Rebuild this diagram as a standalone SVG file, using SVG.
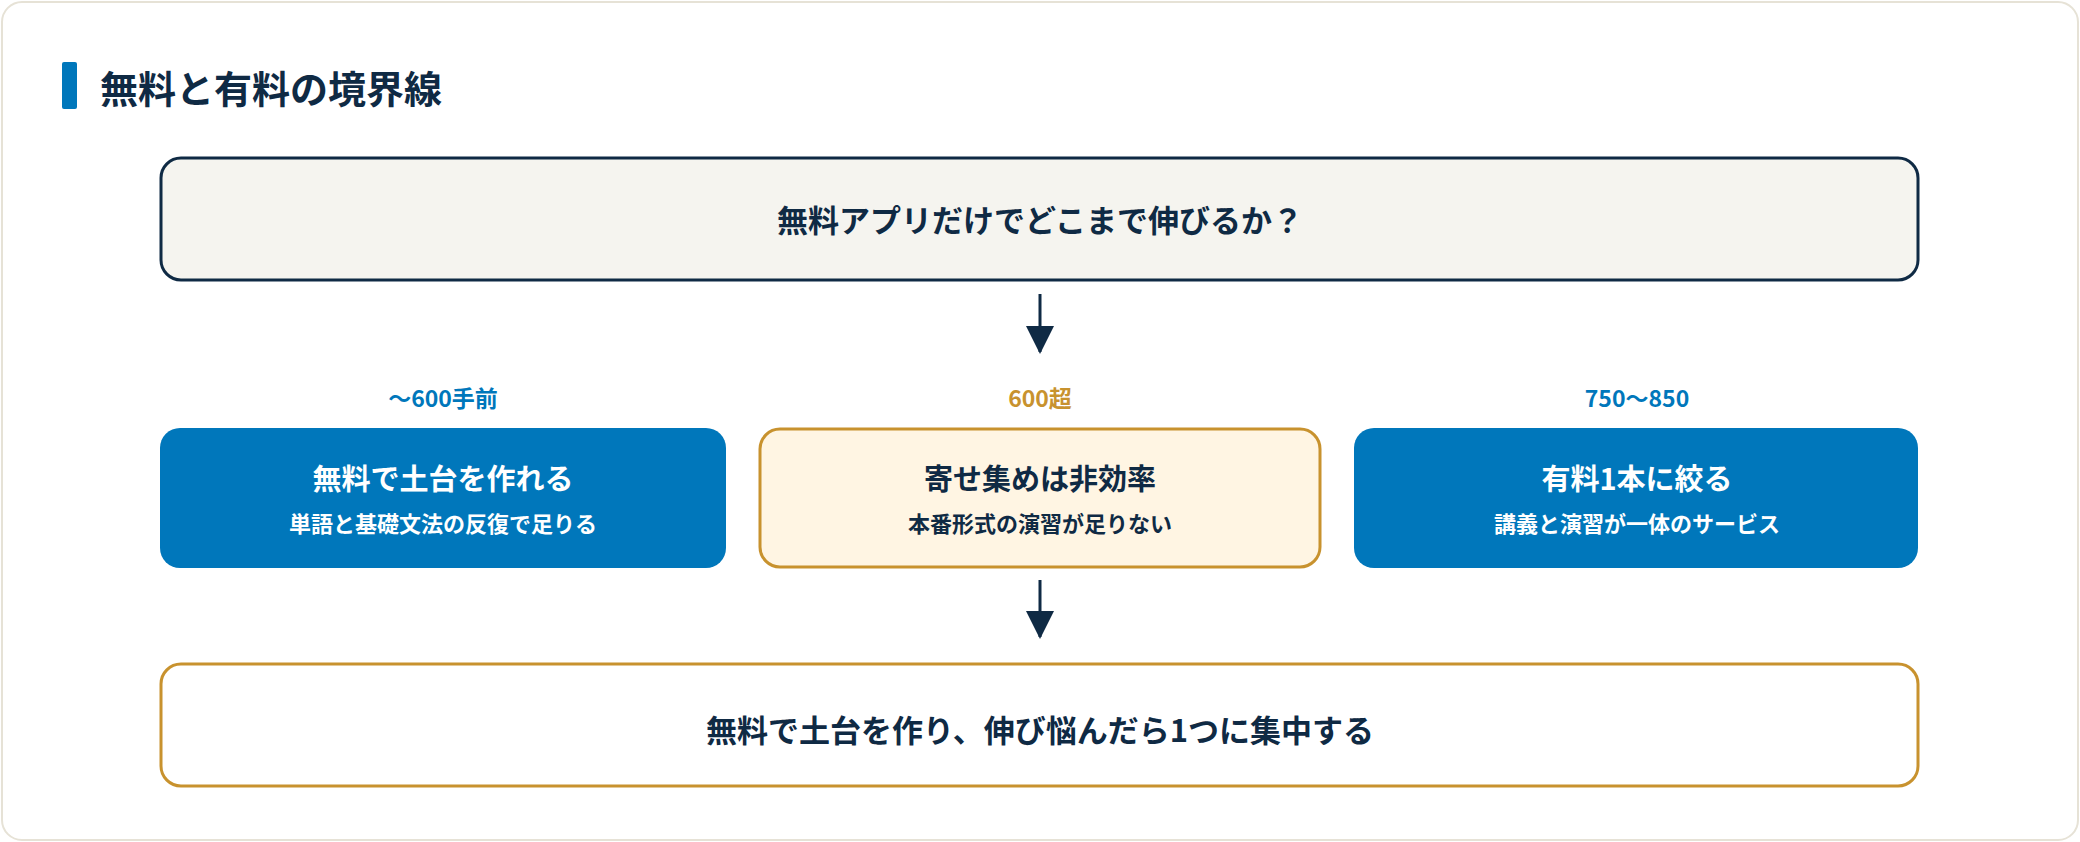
<svg xmlns="http://www.w3.org/2000/svg" width="2080" height="842" viewBox="0 0 2080 842">
<style>
text{font-family:"Noto Sans CJK JP","Noto Sans",sans-serif;font-weight:700;text-anchor:middle}
.dark{fill:#0f2a44}
.conn{stroke:#0f2a44;stroke-width:3;fill:none}
</style>
<defs><marker id="ah" viewBox="0 0 10 10" refX="9" refY="5" markerWidth="9" markerHeight="9" markerUnits="userSpaceOnUse" orient="auto"><path d="M0,0L10,5L0,10z" fill="#0f2a44"/></marker>
<marker id="a" viewBox="0 0 28 28" refX="26" refY="14" markerWidth="28" markerHeight="28" markerUnits="userSpaceOnUse" orient="auto"><path d="M0,0L28,14L0,28z" fill="#0f2a44"/></marker></defs>
<rect x="2" y="2" width="2076" height="838" rx="20" fill="#fff" stroke="#e6e2d6" stroke-width="2"/>
<g id="title"><rect x="62" y="62" width="15" height="47" rx="2" fill="#0077bb"/><text x="100" y="103" class="dark" style="text-anchor:start;font-size:38px">無料と有料の境界線</text></g>
<g id="top"><rect x="161" y="158" width="1757" height="122" rx="20" fill="#f5f4ef" stroke="#0f2a44" stroke-width="3"/><text x="1040" y="232" class="dark" font-size="31">無料アプリだけでどこまで伸びるか？</text></g>
<g id="n1"><text x="443" y="407" fill="#0077bb" font-size="23">〜600手前</text><rect x="160" y="428" width="566" height="140" rx="20" fill="#0077bb"/><text x="443" y="490" fill="#fff" font-size="29">無料で土台を作れる</text><text x="443" y="532" fill="#fff" font-size="22" font-weight="500">単語と基礎文法の反復で足りる</text></g>
<g id="n2"><text x="1040" y="407" fill="#c8922e" font-size="23">600超</text><rect x="760" y="429" width="560" height="138" rx="20" fill="#fff5e3" stroke="#c8922e" stroke-width="3"/><text x="1040" y="490" class="dark" font-size="29">寄せ集めは非効率</text><text x="1040" y="532" class="dark" font-size="22" font-weight="500">本番形式の演習が足りない</text></g>
<g id="n3"><text x="1637" y="407" fill="#0077bb" font-size="23">750〜850</text><rect x="1354" y="428" width="564" height="140" rx="20" fill="#0077bb"/><text x="1637" y="490" fill="#fff" font-size="29">有料1本に絞る</text><text x="1637" y="532" fill="#fff" font-size="22" font-weight="500">講義と演習が一体のサービス</text></g>
<g id="bottom"><rect x="161" y="664" width="1757" height="122" rx="20" fill="#fff" stroke="#c8922e" stroke-width="3"/><text x="1040" y="742" class="dark" font-size="31">無料で土台を作り、伸び悩んだら1つに集中する</text></g>
<g id="connectors"><line x1="1040" y1="294" x2="1040" y2="352" class="conn" marker-end="url(#a)"/><line x1="1040" y1="580" x2="1040" y2="637" class="conn" marker-end="url(#a)"/></g>
</svg>
